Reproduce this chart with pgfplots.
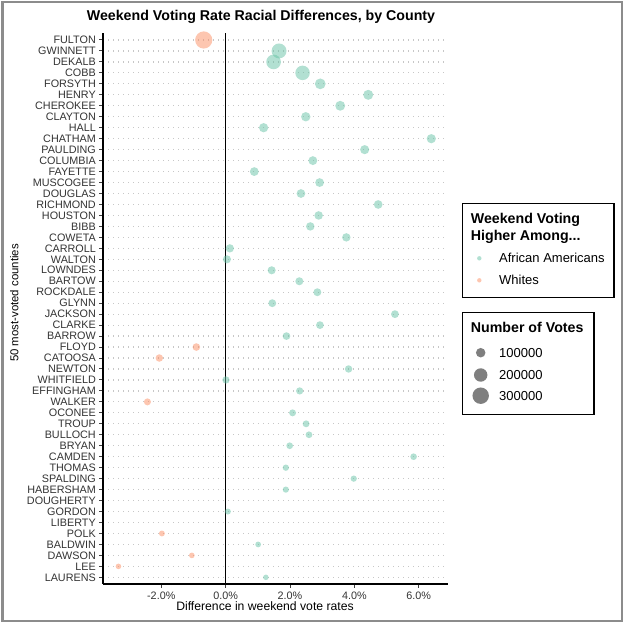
\documentclass[border=0pt]{standalone}
\usepackage{fontspec}
\setmainfont{Liberation Sans}
\usepackage{pgfplots}
\pgfplotsset{compat=1.18}
\usepackage{pgfplotstable}
\definecolor{agreen}{HTML}{66C2A5}
\definecolor{worange}{HTML}{FC8D62}

% x = difference (%), y = row (1 = top), votes
\pgfplotstableread{
x y votes
1.66 2 250000
1.49 3 240000
2.39 4 235000
2.94 5 130000
4.43 6 112000
3.56 7 110000
2.49 8 98000
1.18 9 96000
6.39 10 95000
4.32 11 93000
2.71 12 88000
0.89 13 87000
2.92 14 86000
2.34 15 85000
4.74 16 84000
2.89 17 82000
2.63 18 80000
3.75 19 79000
0.13 20 77000
0.04 21 74000
1.43 22 73000
2.29 23 72000
2.85 24 70000
1.45 25 69000
5.26 26 68000
2.93 27 67000
1.89 28 66000
3.82 31 62000
0.01 32 60000
2.30 33 58000
2.08 35 54000
2.50 36 53000
2.59 37 51000
1.99 38 50000
5.84 39 49000
1.87 40 45000
3.98 41 44000
1.87 42 43000
0.07 44 40000
1.01 47 37000
1.25 50 34000
}\tblAA

\pgfplotstableread{
x y votes
-0.68 1 330000
-0.91 29 65000
-2.06 30 63000
-2.43 34 55000
-1.98 46 39000
-1.05 48 36000
-3.33 49 35000
}\tblW

\pgfplotsset{
  bubble/.style={scatter, only marks, mark=*,
    visualization depends on={0.475*sqrt(\thisrow{votes}/1000) \as \rad},
    scatter/@pre marker code/.code={\scope[mark size=\rad, fill=#1, draw=#1, draw opacity=0, fill opacity=0.5]},
    scatter/@post marker code/.code={\endscope},
  }
}

\begin{document}
\begin{tikzpicture}[x=1bp,y=1bp]
\begin{axis}[
  at={(103bp,-583.9bp)}, anchor=south west,
  scale only axis, width=344.7bp, height=550.5bp,
  xmin=-3.81, xmax=6.90, ymin=0.4, ymax=50.6,
  y dir=reverse,
  axis x line*=bottom, axis y line*=left,
  axis line style={-, line width=1.3bp, black},
  tick align=outside, major tick length=4bp,
  tick style={line width=1bp, black!75},
  xtick={-2,0,2,4,6},
  xticklabels={-2.0\%,0.0\%,2.0\%,4.0\%,6.0\%},
  ytick={1,...,50},
  yticklabels={FULTON,GWINNETT,DEKALB,COBB,FORSYTH,HENRY,CHEROKEE,CLAYTON,HALL,CHATHAM,PAULDING,COLUMBIA,FAYETTE,MUSCOGEE,DOUGLAS,RICHMOND,HOUSTON,BIBB,COWETA,CARROLL,WALTON,LOWNDES,BARTOW,ROCKDALE,GLYNN,JACKSON,CLARKE,BARROW,FLOYD,CATOOSA,NEWTON,WHITFIELD,EFFINGHAM,WALKER,OCONEE,TROUP,BULLOCH,BRYAN,CAMDEN,THOMAS,SPALDING,HABERSHAM,DOUGHERTY,GORDON,LIBERTY,POLK,BALDWIN,DAWSON,LEE,LAURENS},
  yticklabel style={font=\fontsize{10.8bp}{12bp}\selectfont, text=black!80, inner sep=0pt, xshift=-3bp},
  xticklabel style={font=\fontsize{10.8bp}{12bp}\selectfont, text=black!80, inner sep=0pt, yshift=-3.5bp},
  ymajorgrids,
  major grid style={black!22, line width=1.2bp, dash pattern=on 1.2bp off 3.8bp},
  clip=false,
]
\addplot[black, line width=1.3bp] coordinates {(0,0.4) (0,50.6)};
\addplot[bubble=agreen] table[x=x,y=y] {\tblAA};
\addplot[bubble=worange] table[x=x,y=y] {\tblW};
\end{axis}

% title and axis titles
\node[anchor=base, font=\bfseries\fontsize{14.2bp}{16bp}\selectfont] at (261,-20.7) {Weekend Voting Rate Racial Differences, by County};
\node[anchor=base, font=\fontsize{12.2bp}{14bp}\selectfont] at (265,-610.7) {Difference in weekend vote rates};
\node[anchor=base, rotate=90, font=\fontsize{11.4bp}{13bp}\selectfont] at (18.3,-303) {50 most-voted counties};

% legend 1
\draw[line width=1.3bp, black] (462.7,-203.3) rectangle (614,-297.7);
\node[anchor=base west, inner sep=0pt, font=\bfseries\fontsize{14.2bp}{16bp}\selectfont] at (470.7,-223.3) {Weekend Voting};
\node[anchor=base west, inner sep=0pt, font=\bfseries\fontsize{14.2bp}{16bp}\selectfont] at (470.7,-240) {Higher Among...};
\fill[agreen, fill opacity=0.5] (479.3,-258.3) circle (2.2);
\fill[worange, fill opacity=0.5] (479.3,-280.3) circle (2.2);
\node[anchor=base west, inner sep=0pt, font=\fontsize{13bp}{15bp}\selectfont] at (499,-262.8) {African Americans};
\node[anchor=base west, inner sep=0pt, font=\fontsize{13bp}{15bp}\selectfont] at (499,-284.9) {Whites};

% legend 2
\draw[line width=1.3bp, black] (462.7,-312.7) rectangle (594,-414.3);
\node[anchor=base west, inner sep=0pt, font=\bfseries\fontsize{14.2bp}{16bp}\selectfont] at (470.7,-332.7) {Number of Votes};
\fill[black, fill opacity=0.5] (480.7,-352.7) circle (4.75);
\fill[black, fill opacity=0.5] (480.7,-375) circle (6.72);
\fill[black, fill opacity=0.5] (480.7,-395.7) circle (8.23);
\node[anchor=base west, inner sep=0pt, font=\fontsize{13bp}{15bp}\selectfont] at (499,-357.4) {100000};
\node[anchor=base west, inner sep=0pt, font=\fontsize{13bp}{15bp}\selectfont] at (499,-379.7) {200000};
\node[anchor=base west, inner sep=0pt, font=\fontsize{13bp}{15bp}\selectfont] at (499,-400.4) {300000};

% outer frame
\draw[line width=2bp, black!45] (2.5,-2.5) rectangle (621.5,-620.5);
\pgfresetboundingbox
\useasboundingbox (0,0) rectangle (624,-623);
\end{tikzpicture}
\end{document}
